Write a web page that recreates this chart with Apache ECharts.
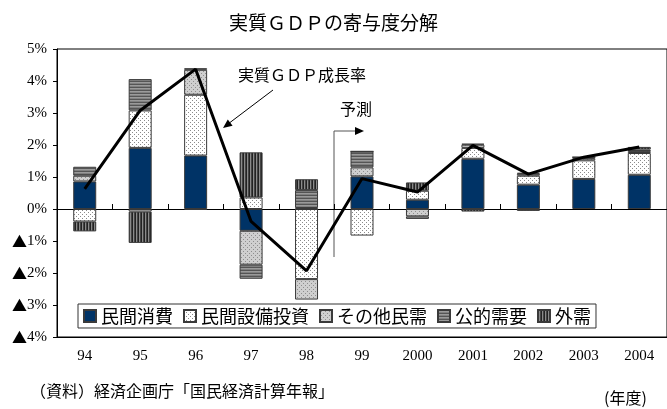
<!DOCTYPE html>
<html>
<head>
<meta charset="utf-8">
<script src="https://cdn.jsdelivr.net/npm/echarts@6/dist/echarts.min.js"></script>
<style>
  html, body { margin: 0; padding: 0; background: #fff; }
  #chart { width: 667px; height: 409px; }
</style>
</head>
<body>
<div id="chart"></div>
<script>
const years = ['94', '95', '96', '97', '98', '99', '2000', '2001', '2002', '2003', '2004']
const consumption = [0.86, 1.91, 1.67, -0.68, 0.03, 1.02, 0.29, 1.57, 0.76, 0.94, 1.07]
const capex = [-0.39, 1.17, 1.9, 0.36, -2.19, -0.83, 0.28, 0.34, 0.28, 0.58, 0.68]
const otherPrivate = [0.18, -0.08, 0.78, -1.06, -0.64, 0.28, -0.23, 0.1, 0.06, 0.07, 0.06]
const publicDemand = [0.28, 0.98, 0.05, -0.44, 0.56, 0.5, -0.08, 0.03, 0.03, 0.03, 0.05]
const external = [-0.31, -0.98, -0.03, 1.41, 0.34, 0, 0.26, -0.08, -0.06, 0, 0.08]
const growth = [0.63, 3.08, 4.37, -0.39, -1.93, 0.95, 0.53, 1.99, 1.09, 1.62, 1.94]

const serif = "'Liberation Serif', 'Noto Sans CJK JP', serif"
const jp = "'Noto Sans CJK JP', sans-serif"

// small canvas tiles for the hatched fills
function tile(w, h, draw) {
  const c = document.createElement('canvas')
  c.width = w
  c.height = h
  draw(c.getContext('2d'))
  return { image: c, repeat: 'repeat' }
}
const dotsWhite = tile(4, 4, (g) => {
  g.fillStyle = '#fff'; g.fillRect(0, 0, 4, 4)
  g.fillStyle = '#8a8a8a'; g.fillRect(0, 0, 1, 1); g.fillRect(2, 2, 1, 1)
})
const dotsGray = tile(4, 4, (g) => {
  g.fillStyle = '#cfcfcf'; g.fillRect(0, 0, 4, 4)
  g.fillStyle = '#8e8e8e'; g.fillRect(1, 1, 1, 1); g.fillRect(3, 3, 1, 1)
})
const hStripes = tile(4, 3, (g) => {
  g.fillStyle = '#555'; g.fillRect(0, 0, 4, 1)
  g.fillStyle = '#9a9a9a'; g.fillRect(0, 1, 4, 1)
  g.fillStyle = '#808080'; g.fillRect(0, 2, 4, 1)
})
const vStripes = tile(3, 4, (g) => {
  g.fillStyle = '#222'; g.fillRect(0, 0, 1, 4)
  g.fillStyle = '#8a8a8a'; g.fillRect(1, 0, 1, 4)
  g.fillStyle = '#444'; g.fillRect(2, 0, 1, 4)
})

function barSeries(name, data, color) {
  return {
    name: name,
    type: 'bar',
    stack: 'gdp',
    barWidth: 23,
    data: data,
    itemStyle: { color: color, borderColor: '#3a3a3a', borderWidth: 1 }
  }
}

const option = {
  animation: false,
  backgroundColor: '#fff',
  title: {
    text: '実質ＧＤＰの寄与度分解',
    left: 'center',
    top: 8,
    textStyle: { fontFamily: jp, fontSize: 19, fontWeight: 'normal', color: '#000' }
  },
  legend: {
    data: ['民間消費', '民間設備投資', 'その他民需', '公的需要', '外需'],
    left: 78,
    top: 304,
    itemWidth: 12,
    itemHeight: 12,
    itemGap: 10,
    padding: [3, 5],
    backgroundColor: '#fff',
    borderColor: '#333',
    borderWidth: 1,
    borderRadius: 0,
    icon: 'rect',
    textStyle: { fontFamily: jp, fontSize: 18, color: '#000' }
  },
  grid: {
    left: 57,
    top: 49,
    width: 611,
    height: 288,
    show: true,
    borderColor: '#000',
    borderWidth: 1
  },
  xAxis: [
    {
      type: 'category',
      data: years,
      position: 'bottom',
      axisLine: { onZero: false, lineStyle: { color: '#000' } },
      axisTick: { show: false },
      axisLabel: { margin: 12, fontFamily: serif, fontSize: 15, color: '#000' }
    },
    {
      type: 'category',
      data: years,
      position: 'bottom',
      axisLine: { onZero: true, lineStyle: { color: '#000' } },
      axisTick: { show: true, inside: true, length: 5, lineStyle: { color: '#000' } },
      axisLabel: { show: false }
    }
  ],
  yAxis: {
    type: 'value',
    min: -4,
    max: 5,
    interval: 1,
    splitLine: { show: false },
    axisLine: { show: true, lineStyle: { color: '#000' } },
    axisTick: { show: true, length: 4, lineStyle: { color: '#000' } },
    axisLabel: {
      margin: 10,
      fontFamily: serif,
      fontSize: 15,
      color: '#000',
      formatter: (v) => (v < 0 ? '{t|▲}' + Math.abs(v) + '%' : v + '%'),
      rich: {
        t: { fontFamily: jp, fontSize: 15, color: '#000' }
      }
    }
  },
  series: [
    barSeries('民間消費', consumption, '#003366'),
    barSeries('民間設備投資', capex, dotsWhite),
    barSeries('その他民需', otherPrivate, dotsGray),
    barSeries('公的需要', publicDemand, hStripes),
    barSeries('外需', external, vStripes),
    {
      name: '実質ＧＤＰ成長率',
      type: 'line',
      data: growth,
      symbol: 'none',
      z: 10,
      lineStyle: { color: '#000', width: 3 }
    }
  ],
  graphic: [
    {
      type: 'text', left: 238, top: 67,
      style: { text: '実質ＧＤＰ成長率', fontFamily: jp, fontSize: 16, fill: '#000' }
    },
    {
      type: 'line',
      shape: { x1: 273, y1: 90, x2: 228, y2: 124 },
      style: { stroke: '#000', lineWidth: 1 }
    },
    {
      type: 'polygon',
      shape: { points: [[223, 128], [232.6, 125.8], [227.8, 119.4]] },
      style: { fill: '#000' }
    },
    {
      type: 'text', left: 340, top: 101,
      style: { text: '予測', fontFamily: jp, fontSize: 16, fill: '#000' }
    },
    {
      type: 'polyline',
      shape: { points: [[334, 257], [334, 131], [356, 131]] },
      style: { stroke: '#555', lineWidth: 1, fill: null }
    },
    {
      type: 'polygon',
      shape: { points: [[364, 131], [355, 127], [355, 135]] },
      style: { fill: '#000' }
    },
    {
      type: 'text', left: 30, top: 383,
      style: { text: '（資料）経済企画庁「国民経済計算年報」', fontFamily: jp, fontSize: 16, fill: '#000' }
    },
    {
      type: 'text', left: 604, top: 390,
      style: { text: '(年度)', fontFamily: jp, fontSize: 16, fill: '#000' }
    }
  ]
}

const chart = echarts.init(document.getElementById('chart'), null, { renderer: 'canvas' })
chart.setOption(option)
</script>
</body>
</html>
